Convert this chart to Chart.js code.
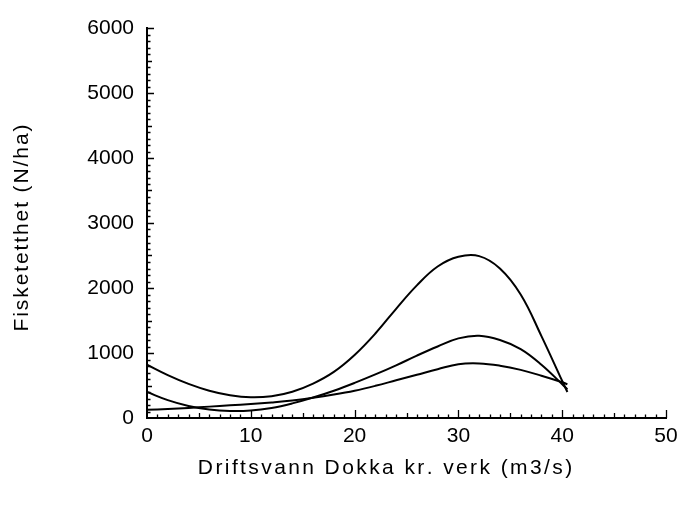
<!DOCTYPE html>
<html>
<head>
<meta charset="utf-8">
<script src="https://cdn.jsdelivr.net/npm/chart.js@4.4.0/dist/chart.umd.min.js"></script>
<style>
  html, body { margin: 0; padding: 0; background: #fff; }
  #wrap { width: 685px; height: 509px; }
</style>
</head>
<body>
<div id="wrap"><canvas id="c" width="685" height="509"></canvas></div>
<script>
// ---- data ----
const xTitle = "Driftsvann Dokka kr. verk (m3/s)";
const yTitle = "Fisketetthet (N/ha)";
const xTickLabels = ["0", "10", "20", "30", "40", "50"];
const yTickLabels = ["0", "1000", "2000", "3000", "4000", "5000", "6000"];

const xVals = [0, 2, 4, 6, 8, 10, 12, 14, 16, 18, 20, 22, 24, 26, 28, 30, 32, 34, 36, 38, 40, 40.5];
const yTop  = [820, 660, 525, 420, 350, 318, 335, 405, 530, 710, 970, 1300, 1680, 2040, 2330, 2480, 2490, 2300, 1900, 1260, 570, 400];
const yMid  = [400, 275, 185, 130, 108, 115, 155, 225, 315, 420, 540, 670, 810, 960, 1100, 1225, 1265, 1200, 1060, 820, 520, 440];
const yLow  = [125, 138, 155, 175, 195, 215, 240, 270, 310, 360, 420, 495, 580, 665, 750, 828, 840, 805, 740, 650, 550, 520];

function pts(xs, ys) { return xs.map((x, i) => ({ x: x, y: ys[i] })); }

const FONT = "'Liberation Sans', Arial, sans-serif";

function spacedText(ctx, text, cx, cy, spacing) {
  const widths = Array.from(text).map(ch => ctx.measureText(ch).width);
  const total = widths.reduce((a, b) => a + b, 0) + spacing * (widths.length - 1);
  let x = cx - total / 2;
  Array.from(text).forEach((ch, i) => {
    ctx.fillText(ch, x, cy);
    x += widths[i] + spacing;
  });
}

const axisDecor = {
  id: 'axisDecor',
  afterDraw(chart) {
    const ctx = chart.ctx;
    const xs = chart.scales.x, ys = chart.scales.y;
    const y0 = ys.getPixelForValue(0);
    const x0 = xs.getPixelForValue(0);
    ctx.save();
    // inward tick marks
    ctx.strokeStyle = '#000';
    ctx.lineWidth = 1.3;
    ctx.beginPath();
    for (let v = 1; v <= 50; v++) {
      const px = Math.round(xs.getPixelForValue(v)) + 0.5;
      const len = (v % 10 === 0) ? 8 : (v % 5 === 0 ? 5 : 3.5);
      ctx.moveTo(px, y0);
      ctx.lineTo(px, y0 - len);
    }
    for (let v = 100; v <= 6000; v += 100) {
      const py = Math.round(ys.getPixelForValue(v)) + 0.5;
      const len = (v % 1000 === 0) ? 7 : (v % 500 === 0 ? 5 : 3.5);
      ctx.moveTo(x0, py);
      ctx.lineTo(x0 + len, py);
    }
    ctx.stroke();
    // axis titles
    ctx.fillStyle = '#000';
    ctx.font = "21px " + FONT;
    ctx.textBaseline = 'middle';
    ctx.textAlign = 'left';
    spacedText(ctx, xTitle, 385, 468, 2.4);
    ctx.translate(22, 228);
    ctx.rotate(-Math.PI / 2);
    spacedText(ctx, yTitle, 0, 0, 1.9);
    ctx.restore();
  }
};

const lineStyle = {
  borderColor: '#000',
  borderWidth: 2,
  pointRadius: 0,
  fill: false,
  tension: 0.4
};

new Chart(document.getElementById('c'), {
  type: 'line',
  data: {
    datasets: [
      Object.assign({ label: 'A', data: pts(xVals, yTop) }, lineStyle),
      Object.assign({ label: 'B', data: pts(xVals, yMid) }, lineStyle),
      Object.assign({ label: 'C', data: pts(xVals, yLow) }, lineStyle)
    ]
  },
  options: {
    responsive: false,
    animation: false,
    devicePixelRatio: 1,
    layout: { padding: { left: 0, right: 19, top: 28, bottom: 0 } },
    plugins: { legend: { display: false }, tooltip: { enabled: false } },
    scales: {
      x: {
        type: 'linear',
        min: 0, max: 50,
        afterFit(scale) { scale.height = 91; },
        afterBuildTicks(scale) { scale.ticks = xTickLabels.map(t => ({ value: Number(t) })); },
        grid: { display: true, drawOnChartArea: false, drawTicks: false },
        border: { display: true, color: '#000', width: 2 },
        ticks: {
          padding: 6,
          color: '#000',
          font: { family: FONT, size: 21 },
          maxRotation: 0,
          callback: (v, i) => xTickLabels[i]
        },
        title: { display: false, text: xTitle }
      },
      y: {
        type: 'linear',
        min: 0, max: 6000,
        afterFit(scale) { scale.width = 147; },
        afterBuildTicks(scale) { scale.ticks = yTickLabels.map(t => ({ value: Number(t) })); },
        grid: { display: true, drawOnChartArea: false, drawTicks: false },
        border: { display: true, color: '#000', width: 2 },
        ticks: {
          padding: 13,
          color: '#000',
          font: { family: FONT, size: 21 },
          callback: (v, i) => yTickLabels[i]
        },
        title: { display: false, text: yTitle }
      }
    }
  },
  plugins: [axisDecor]
});
</script>
</body>
</html>
